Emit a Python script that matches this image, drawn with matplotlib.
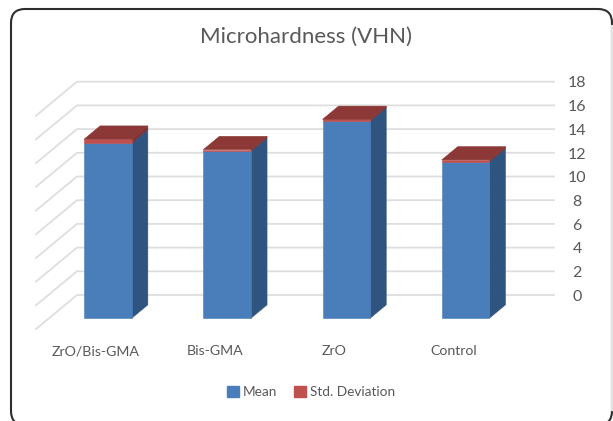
import matplotlib
matplotlib.use("Agg")
import matplotlib.pyplot as plt
from matplotlib.patches import FancyBboxPatch, Patch

categories = ["ZrO/Bis-GMA", "Bis-GMA", "ZrO", "Control"]
mean = [14.8, 14.1, 16.65, 13.2]
std_dev = [0.3, 0.12, 0.12, 0.15]
ticks = [0, 2, 4, 6, 8, 10, 12, 14, 16, 18]

W, H = 613, 421
# pixel layout of the fake 3d box
px_per_cat = 119.2
px_per_val = 11.85
d0, d1 = 0.32, 0.71      # depth range of the bars
dx_depth = 0.344         # sideways shift per unit depth, in categories
dy_depth = 2.87          # upward shift per unit depth, in values
half = 0.2

plt.rcParams["font.family"] = ["Lato", "DejaVu Sans"]
text_col = "#595959"

fig = plt.figure(figsize=(W / 100, H / 100), dpi=100)
ax = fig.add_axes([0, 0, 1, 1])
ax.set_xlim(-108 / px_per_cat, (W - 108) / px_per_cat)
ax.set_ylim((329 - H) / px_per_val, 329 / px_per_val)
ax.axis("off")


def proj(x, v, d):
    return x + (d - d0) * dx_depth, v + d * dy_depth


def face(pts, color, z):
    xy = [proj(*p) for p in pts]
    ax.fill([a for a, b in xy], [b for a, b in xy], color=color, lw=0.4, zorder=z)


# walls
x_left, x_right = -0.494, 3.508
for t in ticks:
    x0, y0 = proj(x_left, t, 0)
    x1, y1 = proj(x_left, t, 1)
    x2, y2 = proj(x_right, t, 1)
    ax.plot([x0, x1, x2], [y0, y1, y2], color="#dedede", lw=1.3, zorder=1)
    ax.text(x2 + 23 / px_per_cat, y2 - 0.15, str(t), color=text_col, fontsize=11.5,
            ha="center", va="center")

# bars
for i, (m, s) in enumerate(zip(mean, std_dev)):
    l, r = i - half, i + half
    top = m + s
    face([(r, 0, d0), (r, 0, d1), (r, m, d1), (r, m, d0)], "#2f5480", 3)
    face([(r, m, d0), (r, m, d1), (r, top, d1), (r, top, d0)], "#7f3230", 3)
    face([(l, 0, d0), (r, 0, d0), (r, m, d0), (l, m, d0)], "#4a7ebb", 4)
    face([(l, m, d0), (r, m, d0), (r, top, d0), (l, top, d0)], "#c0504d", 4)
    face([(l, top, d0), (r, top, d0), (r, top, d1), (l, top, d1)], "#8b3836", 4)
    ax.annotate(categories[i], (i, 0), xytext=(-12 * 0.72, -22 * 0.72),
                textcoords="offset points", color=text_col, fontsize=10.2,
                ha="center", va="center", annotation_clip=False)

ax.set_title("Microhardness (VHN)", y=1 - 37 / H, pad=0, color=text_col, fontsize=16, va="center")

handles = [Patch(color="#4a7ebb", label="Mean"), Patch(color="#c0504d", label="Std. Deviation")]
leg = ax.legend(handles=handles, ncol=2, frameon=False, loc="center",
                bbox_to_anchor=(311 / W, 1 - 392 / H), labelcolor=text_col, fontsize=9.8,
                handlelength=0.9, handleheight=0.9, handletextpad=0.3, columnspacing=1.2)

# chart frame, runs off the bottom of the picture
frame = FancyBboxPatch((11 / W, 1 - 425 / H), 601 / W, 416 / H,
                       boxstyle="round,pad=0,rounding_size=0.001", transform=fig.transFigure,
                       fc="none", ec="#2e2e2e", lw=1.5, clip_on=False, zorder=6)
frame.set_boxstyle("round", pad=0, rounding_size=14 / W)
frame.set_mutation_aspect(W / H)
fig.add_artist(frame)
fig.add_artist(plt.Line2D([612 / W, 612 / W], [1 - 410 / H, 1 - 26 / H], color="#e2e2e2", lw=1.6,
                          transform=fig.transFigure, zorder=7))

fig.savefig("out.png", dpi=100)
